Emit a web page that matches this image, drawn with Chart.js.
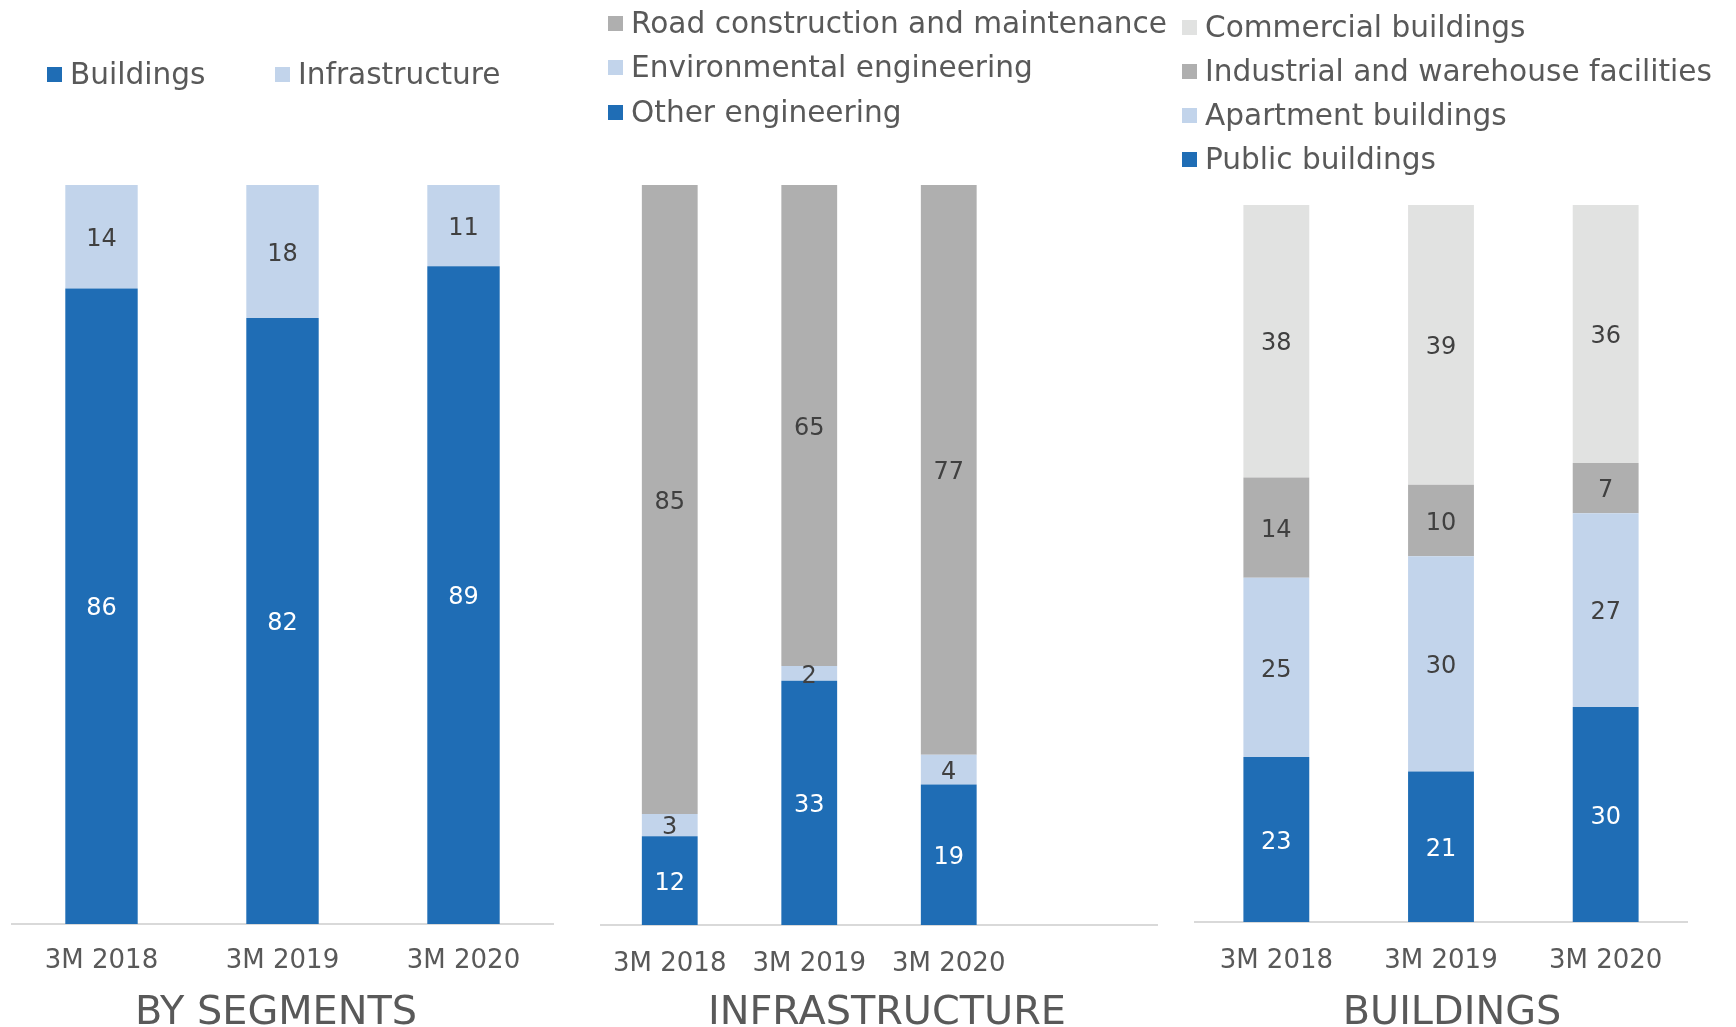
<!DOCTYPE html>
<html>
<head>
<meta charset="utf-8">
<script src="https://cdn.jsdelivr.net/npm/chart.js@4.4.1/dist/chart.umd.min.js"></script>
<style>
html,body{margin:0;padding:0;background:#fff;width:1736px;height:1027px;overflow:hidden;font-family:"DejaVu Sans",sans-serif;}
.panel{position:absolute;top:0;height:1027px;}
.leg{position:absolute;height:40px;line-height:40px;display:flex;align-items:center;white-space:nowrap;font-size:29.6px;color:#595959;}
.sw{width:15px;height:15px;margin-right:8px;flex:none;}
.ttl{position:absolute;width:600px;height:50px;line-height:50px;text-align:center;font-size:39.8px;color:#595959;white-space:nowrap;}
</style>
</head>
<body>
<div class="panel" id="p1" style="left:11px;width:543px;"><canvas id="c1"></canvas></div>
<div class="panel" id="p2" style="left:600px;width:558px;"><canvas id="c2"></canvas></div>
<div class="panel" id="p3" style="left:1194px;width:494px;"><canvas id="c3"></canvas></div>
<div id="legends"></div>
<script>
// ---- data ----
const categories = ["3M 2018", "3M 2019", "3M 2020"];
const infraCategories = ["3M 2018", "3M 2019", "3M 2020", ""];

const segLabels = ["Buildings", "Infrastructure"];
const segBuildings = [86, 82, 89];
const segInfrastructure = [14, 18, 11];

const infraLabels = ["Road construction and maintenance", "Environmental engineering", "Other engineering"];
const infraRoad = [85, 65, 77];
const infraEnvironmental = [3, 2, 4];
const infraOther = [12, 33, 19];

const bldLabels = ["Commercial buildings", "Industrial and warehouse facilities", "Apartment buildings", "Public buildings"];
const bldCommercial = [38, 39, 36];
const bldIndustrial = [14, 10, 7];
const bldApartment = [25, 30, 27];
const bldPublic = [23, 21, 30];

const panelTitles = ["BY SEGMENTS", "INFRASTRUCTURE", "BUILDINGS"];

// ---- styles ----
const DARK = "#1F6DB5", LIGHT = "#C2D4EB", GRAY = "#AFAFAF", PALE = "#E1E2E1";
const TXT = "#595959", LBL = "#404040";
const FONT = "DejaVu Sans";
const TICK_SIZE = 26;
const TICK_LH = 2;

const valueLabels = {
  id: "valueLabels",
  afterDatasetsDraw(chart) {
    const ctx = chart.ctx;
    ctx.save();
    ctx.font = "24px '" + FONT + "'";
    ctx.textAlign = "center";
    ctx.textBaseline = "middle";
    chart.data.datasets.forEach((ds, i) => {
      const meta = chart.getDatasetMeta(i);
      meta.data.forEach((el, j) => {
        const v = ds.data[j];
        if (v === null || v === undefined) return;
        ctx.fillStyle = ds.labelColor;
        ctx.fillText(String(v), el.x, (el.y + el.base) / 2 + 3);
      });
    });
    ctx.restore();
  }
};

function makeChart(id, labels, datasets, top, bottom, tickPad) {
  const H = 1027;
  const axisH = TICK_SIZE * TICK_LH + 2 * tickPad;
  return new Chart(document.getElementById(id), {
    type: "bar",
    data: { labels: labels, datasets: datasets },
    plugins: [valueLabels],
    options: {
      responsive: true,
      maintainAspectRatio: false,
      animation: false,
      layout: { padding: { top: top, bottom: H - bottom - axisH, left: 0, right: 0 } },
      plugins: { legend: { display: false }, tooltip: { enabled: false } },
      datasets: { bar: { categoryPercentage: 0.8, barPercentage: 0.5, borderWidth: 0 } },
      scales: {
        x: {
          stacked: true,
          grid: { display: false, drawTicks: false },
          border: { display: true, color: "#D9D9D9", width: 2 },
          ticks: { color: TXT, padding: tickPad, font: { family: FONT, size: TICK_SIZE, lineHeight: TICK_LH }, maxRotation: 0, autoSkip: false }
        },
        y: { stacked: true, display: false, min: 0, max: 100 }
      }
    }
  });
}

makeChart("c1", categories, [
  { label: segLabels[0], data: segBuildings, backgroundColor: DARK, labelColor: "#FFFFFF" },
  { label: segLabels[1], data: segInfrastructure, backgroundColor: LIGHT, labelColor: LBL }
], 185, 924, 11.5);

makeChart("c2", infraCategories, [
  { label: infraLabels[2], data: infraOther, backgroundColor: DARK, labelColor: "#FFFFFF" },
  { label: infraLabels[1], data: infraEnvironmental, backgroundColor: LIGHT, labelColor: LBL },
  { label: infraLabels[0], data: infraRoad, backgroundColor: GRAY, labelColor: LBL }
], 185, 925, 13);

makeChart("c3", categories, [
  { label: bldLabels[3], data: bldPublic, backgroundColor: DARK, labelColor: "#FFFFFF" },
  { label: bldLabels[2], data: bldApartment, backgroundColor: LIGHT, labelColor: LBL },
  { label: bldLabels[1], data: bldIndustrial, backgroundColor: GRAY, labelColor: LBL },
  { label: bldLabels[0], data: bldCommercial, backgroundColor: PALE, labelColor: LBL }
], 205, 922, 13);

// ---- HTML legends and titles ----
const legHost = document.getElementById("legends");
function addLegend(text, color, left, cy) {
  const d = document.createElement("div");
  d.className = "leg";
  d.style.left = left + "px";
  d.style.top = (cy - 20) + "px";
  const s = document.createElement("span");
  s.className = "sw";
  s.style.background = color;
  const t = document.createElement("span");
  t.textContent = text;
  d.appendChild(s); d.appendChild(t);
  legHost.appendChild(d);
}
addLegend(segLabels[0], DARK, 47, 74);
addLegend(segLabels[1], LIGHT, 275, 74);

addLegend(infraLabels[0], GRAY, 608, 23);
addLegend(infraLabels[1], LIGHT, 608, 67);
addLegend(infraLabels[2], DARK, 608, 112);

addLegend(bldLabels[0], PALE, 1182, 27);
addLegend(bldLabels[1], GRAY, 1182, 71);
addLegend(bldLabels[2], LIGHT, 1182, 115);
addLegend(bldLabels[3], DARK, 1182, 159);

function addTitle(text, cx, cy) {
  const d = document.createElement("div");
  d.className = "ttl";
  d.style.left = (cx - 300) + "px";
  d.style.top = (cy - 22) + "px";
  d.textContent = text;
  legHost.appendChild(d);
}
addTitle(panelTitles[0], 276, 1007);
addTitle(panelTitles[1], 887, 1007);
addTitle(panelTitles[2], 1452, 1007);
</script>
</body>
</html>
